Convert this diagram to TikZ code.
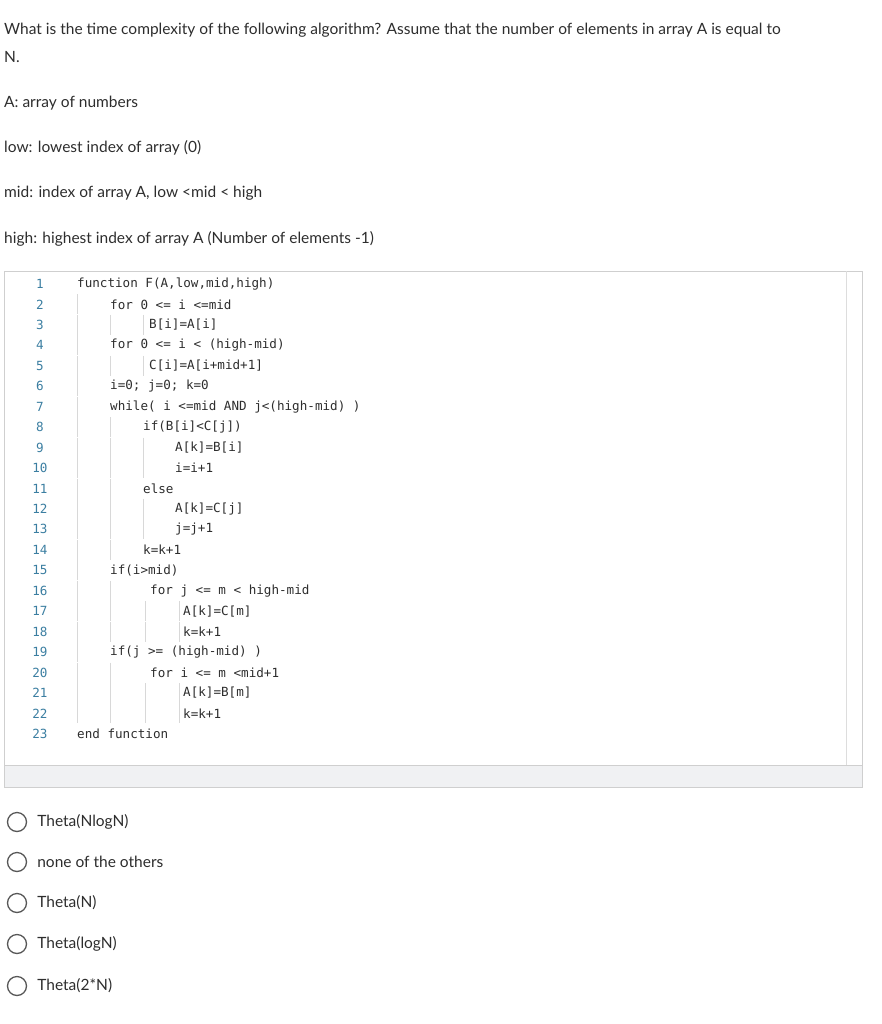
\documentclass[tikz,border=0pt]{standalone}
\usepackage{fontspec}
\setmainfont{Lato}
\setmonofont{DejaVu Sans Mono}
\usetikzlibrary{positioning}
\definecolor{lnum}{HTML}{3B7EA1}
\definecolor{guide}{HTML}{D8D8D8}
\definecolor{boxline}{HTML}{CFCFCF}
\definecolor{footer}{HTML}{F0F1F3}
\definecolor{ink}{HTML}{2D2D2D}

\tikzset{
    txt/.style={anchor=west, inner sep=0pt, font=\fontsize{15.5}{18}\selectfont, text=ink},
    code/.style={anchor=west, inner sep=0pt, font=\fontsize{12.6}{15}\ttfamily, text=ink},
    num/.style={inner sep=0pt, font=\fontsize{12.6}{15}\ttfamily, text=lnum},
    radio/.style={circle, draw=ink!80, line width=1.3pt, minimum size=19pt, inner sep=0pt},
}

\begin{document}
\begin{tikzpicture}[x=1pt, y=-1pt]
    \useasboundingbox (0,0) rectangle (882,1024);

    % question
    \node (q1) at (4,30) [txt] {What is the time complexity of the following algorithm? Assume that the number of elements in array A is equal to};
    \node (q2) at (4,57) [txt] {N.};
    \node (dA) at (4,103) [txt] {A: array of numbers};
    \node (dLow) at (4,148) [txt] {low: lowest index of array (0)};
    \node (dMid) at (4,193) [txt] {mid: index of array A, low <mid < high};
    \node (dHigh) at (4,239) [txt] {high: highest index of array A (Number of elements -1)};

    % code box
    \fill[footer] (4,765) rectangle (862,787);
    \draw[boxline] (4,271) rectangle (862,787);
    \draw[boxline] (4,765) -- (862,765);
    \draw[boxline!70] (846,271) -- (846,765);

    % indent guides
    \foreach \gx/\ln in {77/2, 77/3, 77/4, 77/5, 77/6, 77/7, 77/8, 77/9, 77/10, 77/11, 77/12, 77/13, 77/14, 77/15, 77/16, 77/17, 77/18, 77/19, 77/20, 77/21, 77/22,
                         110/3, 110/5, 110/8, 110/9, 110/10, 110/11, 110/12, 110/13, 110/14, 110/16, 110/17, 110/18, 110/20, 110/21, 110/22,
                         143/3, 143/5, 143/9, 143/10, 143/12, 143/13, 145/17, 145/18, 145/21, 145/22,
                         179/17, 179/18, 179/21, 179/22}
        \draw[guide] (\gx, {274+(\ln-1)*20.45}) -- (\gx, {294+(\ln-1)*20.45});

    % line numbers
    \foreach \n in {1,...,23}
        \node (ln\n) at (40, {284+(\n-1)*20.45}) [num] {\n};

    % code lines
    \foreach \n/\cx/\src in {1/77/{function F(A,low,mid,high)},
                            2/110/{for 0 <= i <=mid},
                            3/149/{B[i]=A[i]},
                            4/110/{for 0 <= i < (high-mid)},
                            5/149/{C[i]=A[i+mid+1]},
                            6/110/{i=0; j=0; k=0},
                            7/110/{while( i <=mid  AND  j<(high-mid) )},
                            8/143/{if(B[i]<C[j])},
                            9/175/{A[k]=B[i]},
                            10/175/{i=i+1},
                            11/143/{else},
                            12/175/{A[k]=C[j]},
                            13/175/{j=j+1},
                            14/143/{k=k+1},
                            15/110/{if(i>mid)},
                            16/150/{for j <= m < high-mid},
                            17/183/{A[k]=C[m]},
                            18/183/{k=k+1},
                            19/110/{if(j >= (high-mid) )},
                            20/150/{for i <= m <mid+1},
                            21/183/{A[k]=B[m]},
                            22/183/{k=k+1},
                            23/77/{end function}}
        \node (c\n) at (\cx, {284+(\n-1)*20.45}) [code] {\obeyspaces\src};

    % answer options
    \foreach \k/\ay/\opt in {1/822/{Theta(NlogN)}, 2/862/{none of the others}, 3/903/{Theta(N)}, 4/944/{Theta(logN)}, 5/986/{Theta(2*N)}}
    {
        \node (r\k) at (17,\ay) [radio] {};
        \node (o\k) [txt, right=10pt of r\k] {\opt};
    }
\end{tikzpicture}
\end{document}
